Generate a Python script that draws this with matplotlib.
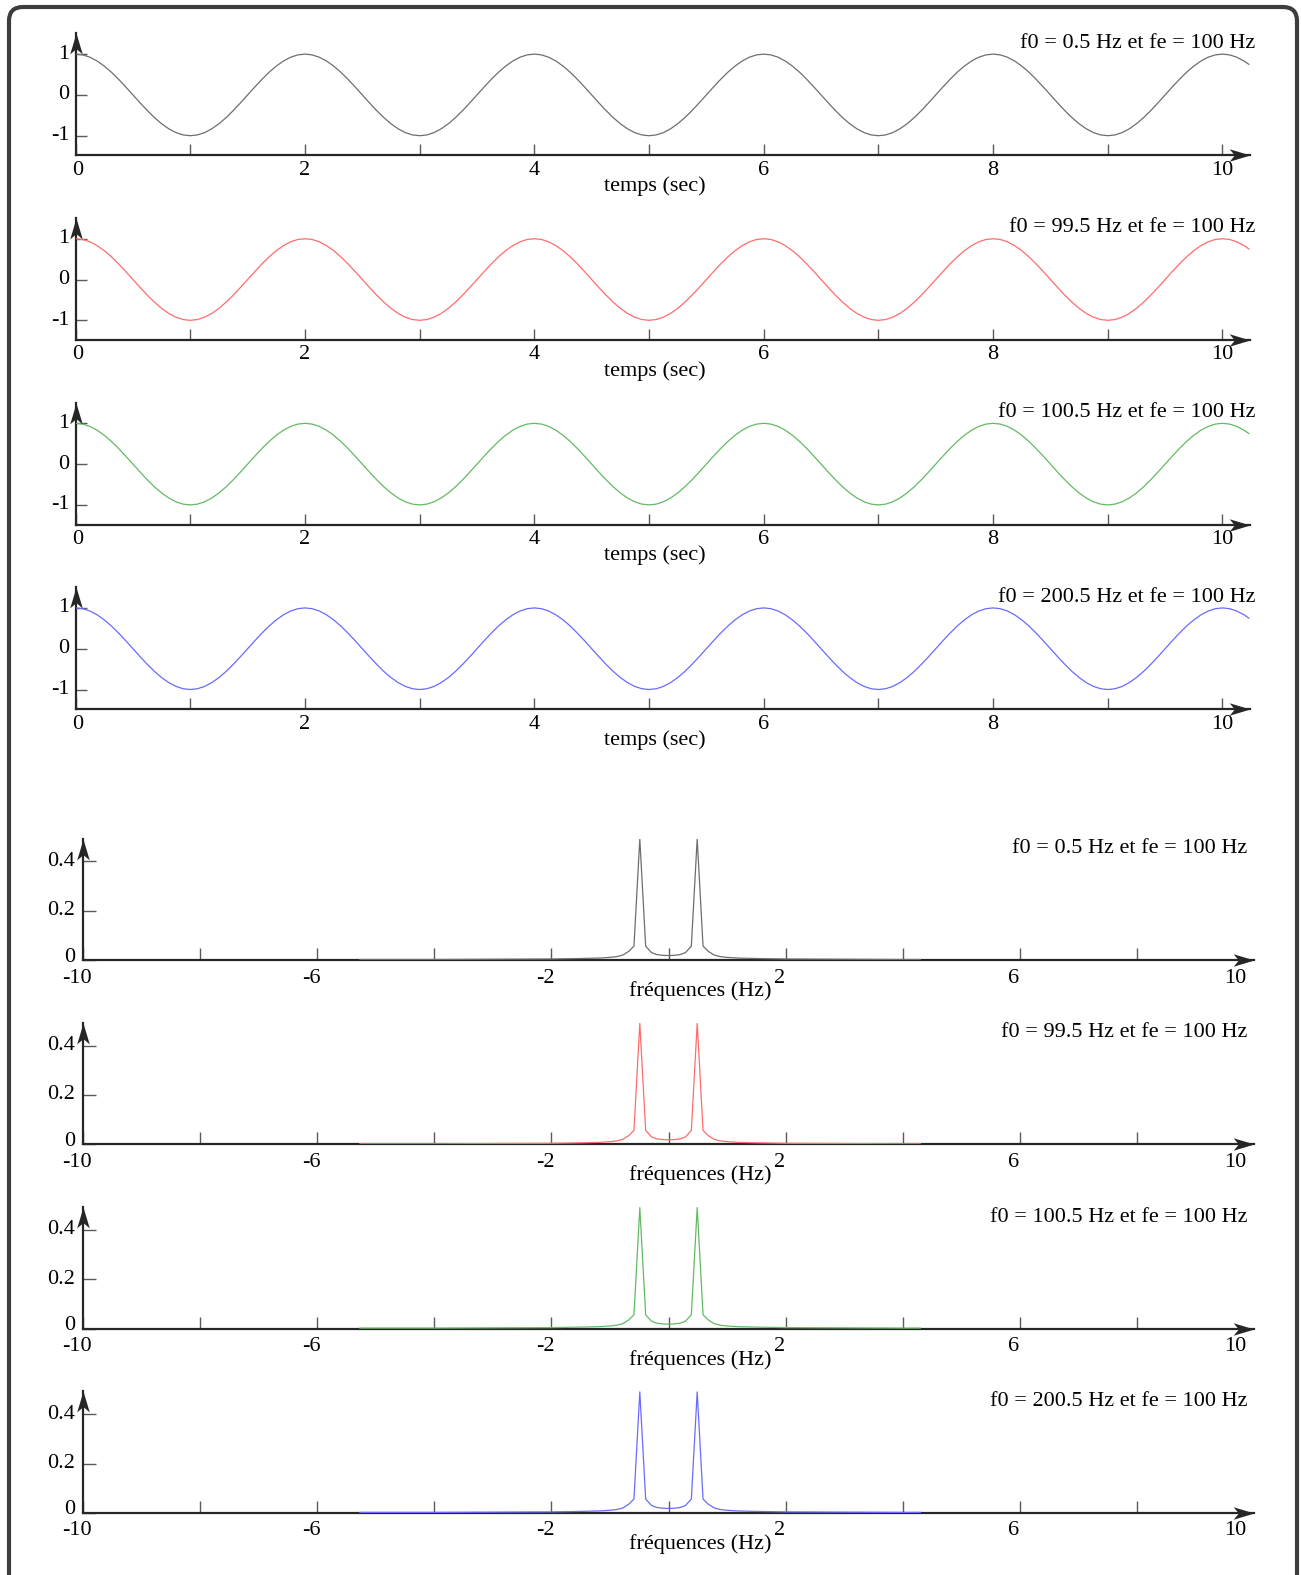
import numpy as np
import matplotlib
matplotlib.use('Agg')
import matplotlib.pyplot as plt
from matplotlib.path import Path
from matplotlib.patches import FancyBboxPatch

W, H = 1301, 1575

plt.rcParams['font.family'] = ['Liberation Serif', 'DejaVu Serif']
plt.rcParams['font.size'] = 16

# --- data ---
titres = ['f0 = 0.5 Hz et fe = 100 Hz', 'f0 = 99.5 Hz et fe = 100 Hz',
          'f0 = 100.5 Hz et fe = 100 Hz', 'f0 = 200.5 Hz et fe = 100 Hz']
couleurs = ['#6e6e6e', '#ff6c6c', '#62bb62', '#6a6aff']

# one period of the sampled signal, every 0.0625 s (the 4 signals look identical)
une_periode = [1.0, 0.981, 0.924, 0.831, 0.707, 0.556, 0.383, 0.195,
               0.0, -0.195, -0.383, -0.556, -0.707, -0.831, -0.924, -0.981,
               -1.0, -0.981, -0.924, -0.831, -0.707, -0.556, -0.383, -0.195,
               0.0, 0.195, 0.383, 0.556, 0.707, 0.831, 0.924, 0.981]
temps = list(np.arange(0, 10.2, 0.0625)) + [10.23]
signal = une_periode * 5 + [1.0, 0.981, 0.924, 0.831, 0.75]

# spectrum magnitude (same for the 4 signals)
freqs = [-5.27, -4.0, -3.0, -2.0, -1.5, -1.17, -0.98, -0.88, -0.78, -0.68, -0.59,
         -0.49, -0.39, -0.29, -0.20, -0.10, 0.0, 0.10, 0.20, 0.29, 0.39, 0.49,
         0.59, 0.68, 0.78, 0.88, 0.98, 1.17, 1.5, 2.0, 3.0, 4.0, 4.3]
module = [0.002, 0.002, 0.003, 0.004, 0.006, 0.008, 0.011, 0.014, 0.02, 0.035, 0.056,
          0.49, 0.056, 0.03, 0.022, 0.019, 0.018, 0.019, 0.022, 0.03, 0.056, 0.49,
          0.056, 0.035, 0.02, 0.014, 0.011, 0.008, 0.006, 0.004, 0.003, 0.002, 0.002]

t_ticks = list(range(11))
t_labels = ['0', '', '2', '', '4', '', '6', '', '8', '', '10']
t_yticks = [-1, 0, 1]
f_ticks = list(range(-10, 10, 2))
f_labels = ['-10', '', '-6', '', '-2', '', '2', '', '6', '']
f_yticks = [0, 0.2, 0.4]
f_yticklabels = ['0', '0.2', '0.4']

axis_color = '#262626'
tick_color = '#5a5a5a'

fig = plt.figure(figsize=(W / 100, H / 100), dpi=100)

# frame around everything
bg = fig.add_axes([0, 0, 1, 1])
bg.set_xlim(0, W)
bg.set_ylim(H, 0)
bg.axis('off')
bg.add_patch(FancyBboxPatch((9, 7), 1288, 1620, boxstyle='round,pad=0,rounding_size=14',
                            lw=3, ec='#3d3d3d', fc='none'))

head_right = Path([(0, 0), (-2, 0.6), (-1.5, 0), (-2, -0.6), (0, 0)],
                  [Path.MOVETO, Path.LINETO, Path.LINETO, Path.LINETO, Path.CLOSEPOLY])
head_up = Path([(0, 0), (0.6, -2), (0, -1.5), (-0.6, -2), (0, 0)],
               [Path.MOVETO, Path.LINETO, Path.LINETO, Path.LINETO, Path.CLOSEPOLY])


def px_axes(x0, x1, ytop, ybot):
    ax = fig.add_axes([x0 / W, 1 - ybot / H, (x1 - x0) / W, (ybot - ytop) / H])
    ax.patch.set_visible(False)
    for s in ax.spines.values():
        s.set_visible(False)
    return ax


def arrows(ax):
    x0, x1 = ax.get_xlim()
    y0, y1 = ax.get_ylim()
    ax.plot([x0, x1], [y0, y0], color=axis_color, lw=1.6, clip_on=False, zorder=2)
    ax.plot([x0, x0], [y0, y1], color=axis_color, lw=1.6, clip_on=False, zorder=2)
    ax.plot([x1], [y0], marker=head_right, ms=30, color=axis_color, mew=0, clip_on=False, zorder=5)
    ax.plot([x0], [y1], marker=head_up, ms=30, color=axis_color, mew=0, clip_on=False, zorder=5)


def label(ax, txt, xy, dx, dy, ha='center'):
    ax.annotate(txt, xy=xy, xytext=(dx, dy), textcoords='offset pixels',
                ha=ha, va='center', annotation_clip=False)


# time panels
for i in range(4):
    ybot = 155.3 + i * 184.6
    ax = px_axes(75.6, 1250, ybot - 122, ybot)
    ax.set_xlim(0, 10.24)
    ax.set_ylim(-1.48, 1.51)
    ax.plot(temps, signal, color=couleurs[i], lw=0.9, zorder=4)
    arrows(ax)
    ax.set_xticks(t_ticks)
    ax.set_yticks(t_yticks)
    ax.set_xticklabels([])
    ax.set_yticklabels([])
    ax.tick_params(direction='in', length=8, width=1, color=tick_color, top=False, right=False)
    for v, s in zip(t_ticks, t_labels):
        if s:
            label(ax, s, (v, -1.48), 2 if v == 0 else 0, -15)
    for v in t_yticks:
        label(ax, str(v), (0, v), -6, 0, ha='right')
    ax.annotate(titres[i], xy=(1, 1), xycoords='axes fraction', xytext=(5, -10),
                textcoords='offset pixels', ha='right', va='center', annotation_clip=False)
    fig.text(655 / W, 1 - (ybot + 31) / H, 'temps (sec)', ha='center', va='center')

# spectrum panels
for i in range(4):
    ybot = 960 + i * 184.3
    ax = px_axes(83, 1254, ybot - 121.5, ybot)
    ax.set_xlim(-10, 10)
    ax.set_ylim(0, 0.492)
    ax.plot(freqs, module, color=couleurs[i], lw=0.9, zorder=4)
    arrows(ax)
    ax.set_xticks(f_ticks)
    ax.set_yticks(f_yticks)
    ax.set_xticklabels([])
    ax.set_yticklabels([])
    ax.tick_params(direction='in', length=9, width=1, color=tick_color, top=False, right=False)
    for v, s in zip(f_ticks, f_labels):
        if s:
            label(ax, s, (v, 0), -6, -18)
    label(ax, '10', (10, 0), -19, -18)
    for v, s in zip(f_yticks, f_yticklabels):
        label(ax, s, (-10, v), -8, 3 if v == 0 else 0, ha='right')
    ax.annotate(titres[i], xy=(1, 1), xycoords='axes fraction', xytext=(-7, -10),
                textcoords='offset pixels', ha='right', va='center', annotation_clip=False)
    fig.text(700 / W, 1 - (ybot + 31) / H, 'fréquences (Hz)', ha='center', va='center')

fig.savefig('out.png', dpi=100)
